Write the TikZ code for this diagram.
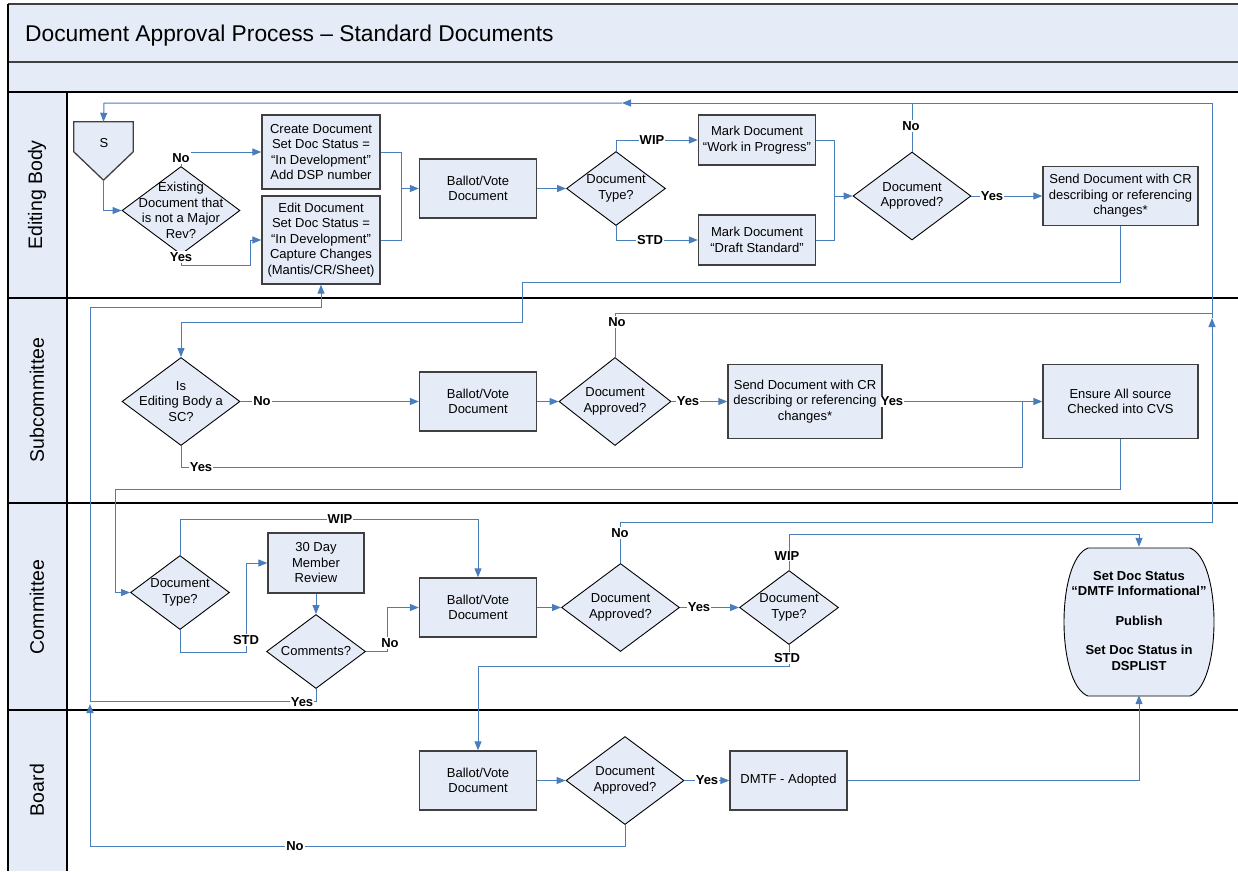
\documentclass[tikz,border=0pt]{standalone}
\usepackage{fontspec}
\setmainfont{Liberation Sans}
\usetikzlibrary{shapes.geometric,arrows.meta}
\definecolor{lineblue}{RGB}{74,126,187}
\definecolor{boxfill}{RGB}{230,236,247}
\definecolor{boxline}{RGB}{64,64,64}
\newcommand\bxf{\fontsize{13}{15.5}\selectfont}
\newcommand\lbf{\fontsize{13}{15.5}\selectfont\bfseries}
\newcommand\lanef{\fontsize{19.5}{22}\selectfont}
\newcommand\titf{\fontsize{22.8}{26}\selectfont}
\tikzset{
  conn/.style={draw=lineblue, line width=1pt},
  arr/.style={-{Triangle[length=9pt,width=7pt]}},
  box/.style={draw=boxline, fill=boxfill, line width=1.3pt, align=center, inner sep=1pt, font=\bxf},
  diab/.style={diamond, draw=black, fill=boxfill, line width=0.9pt, inner sep=0pt, minimum width=118, minimum height=88},
  dias/.style={diamond, draw=black, fill=boxfill, line width=0.9pt, inner sep=0pt, minimum width=99, minimum height=74},
  dtxt/.style={align=center, font=\bxf, inner sep=0pt},
  lbl/.style={font=\lbf, fill=white, inner sep=1pt},
  lane/.style={rotate=90, font=\lanef},
}
\begin{document}
\begin{tikzpicture}[x=1pt,y=-1pt]
\useasboundingbox (0,0) rectangle (1238,871);
% background bands
\fill[boxfill] (8,4) rectangle (1238,92);
\fill[boxfill] (8,92) rectangle (67,871);
\draw[black!75, line width=1.5pt] (8,4) -- (1238,4);
\draw[black!75, line width=1.5pt] (8,62) -- (1238,62);
\draw[black, line width=1.2pt] (8,92) -- (1238,92);
\draw[black, line width=1.2pt] (8,298) -- (1238,298);
\draw[black, line width=1.2pt] (8,503) -- (1238,503);
\draw[black, line width=1.2pt] (8,710) -- (1238,710);
\draw[black, line width=1.2pt] (8,4) -- (8,871);
\draw[black, line width=1.2pt] (67,92) -- (67,871);
\node[font=\titf, anchor=base west, inner sep=0pt] (title) at (25,41) {Document Approval Process – Standard Documents};
\node[lane] (lane1) at (37,195) {Editing Body};
\node[lane] (lane2) at (37,400) {Subcommittee};
\node[lane] (lane3) at (37,607) {Committee};
\node[lane] (lane4) at (37,790) {Board};

% ---------- Editing Body ----------
\node[inner sep=0pt, minimum width=59, minimum height=58] (S) at (103.5,151) {};
\draw[draw=boxline, fill=boxfill, line width=1.3pt] (S.north west) -- (S.north east) -- ([yshift=-30pt]S.north east) -- (S.south) -- ([yshift=-30pt]S.north west) -- cycle;
\node[font=\bxf, inner sep=0pt] (Stxt) at (104,143) {S};
\node[diab] (d1) at (181,210.5) {};
\node[dtxt] (d1t) at (d1) {Existing\\Document that\\is not a Major\\Rev?};
\node[box, minimum width=118, minimum height=74] (create) at (321,152) {Create Document\\Set Doc Status =\\“In Development”\\Add DSP number};
\node[box, minimum width=118, minimum height=88] (edit) at (321,240) {Edit Document\\Set Doc Status =\\“In Development”\\Capture Changes\\(Mantis/CR/Sheet)};
\node[box, minimum width=117, minimum height=59] (bal1) at (478,188.5) {Ballot/Vote\\Document};
\node[dias] (type1) at (616,188.5) {};
\node[dtxt] (type1t) at (type1) {Document\\Type?};
\node[box, minimum width=117, minimum height=50] (wip1) at (757,140) {Mark Document\\“Work in Progress”};
\node[box, minimum width=117, minimum height=50] (std1) at (757,240) {Mark Document\\“Draft Standard”};
\node[diab] (app1) at (912,196) {};
\node[dtxt] (app1t) at (app1) {Document\\Approved?};
\node[box, minimum width=155, minimum height=59] (send1) at (1120.5,196) {Send Document with CR\\describing or referencing\\changes*};

% ---------- Subcommittee ----------
\node[diab] (issc) at (181,401.5) {};
\node[dtxt] (issct) at (issc) {Is\\Editing Body a\\SC?};
\node[box, minimum width=117, minimum height=59] (bal2) at (478,401.5) {Ballot/Vote\\Document};
\node[diab, minimum width=112] (app2) at (615,401.5) {};
\node[dtxt] (app2t) at (app2) {Document\\Approved?};
\node[box, minimum width=154, minimum height=74] (send2) at (805,401.5) {Send Document with CR\\describing or referencing\\changes*};
\node[box, minimum width=155, minimum height=74] (ensure) at (1120.5,401.5) {Ensure All source\\Checked into CVS};

% ---------- Committee ----------
\node[dias] (ctype) at (180,592.5) {};
\node[dtxt] (ctypet) at (ctype) {Document\\Type?};
\node[box, minimum width=96, minimum height=60] (review) at (316,563) {30 Day\\Member\\Review};
\node[dias] (comm) at (316,651.5) {};
\node[dtxt] (commt) at (comm) {Comments?};
\node[box, minimum width=117, minimum height=59] (bal3) at (478,607.5) {Ballot/Vote\\Document};
\node[diab] (app3) at (620.5,607.5) {};
\node[dtxt] (app3t) at (app3) {Document\\Approved?};
\node[dias] (dtype) at (789,607.5) {};
\node[dtxt] (dtypet) at (dtype) {Document\\Type?};
\draw[draw=black, fill=boxfill, line width=0.9pt] (1088,548) -- (1190,548) .. controls (1222,560) and (1222,684) .. (1190,696) -- (1088,696) .. controls (1056,684) and (1056,560) .. (1088,548) -- cycle;
\node[font=\lbf, align=center, inner sep=0pt, minimum width=150, minimum height=148] (term) at (1139,621) {Set Doc Status\\“DMTF Informational”\\[14pt]Publish\\[14pt]Set Doc Status in\\DSPLIST};

% ---------- Board ----------
\node[box, minimum width=117, minimum height=59] (bal4) at (478,780.5) {Ballot/Vote\\Document};
\node[diab] (app4) at (625,780.5) {};
\node[dtxt] (app4t) at (app4) {Document\\Approved?};
\node[box, minimum width=117, minimum height=59] (dmtf) at (788.5,780.5) {DMTF - Adopted};

% ---------- coordinates ----------
\coordinate (kR1) at (1212,522);
\coordinate (kR2) at (1212,313);
\coordinate (kArrR) at (1212,318);
\coordinate (kTR) at (1212,103);
\coordinate (kArrT) at (622,103);
\coordinate (kTL) at (104,103);
\coordinate (kY1) at (250,265);
\coordinate (kJ1) at (401,188.5);
\coordinate (kJ2) at (834,196);
\coordinate (kS1) at (522,282);
\coordinate (kS2) at (522,322);
\coordinate (kY2) at (1022,467);
\coordinate (kE1) at (115,489);
\coordinate (kW1) at (478,519);
\coordinate (kSt1) at (246,652);
\coordinate (kN1) at (387,651.5);
\coordinate (kYc) at (90,701);
\coordinate (kEd) at (90,307);
\coordinate (kW2) at (1139,534);
\coordinate (kSt2) at (478,666);
\coordinate (kD1) at (1139,780.5);
\coordinate (kB1) at (90,846);
\coordinate (kB2) at (90,704);

% ---------- connectors ----------
\draw[conn,arr] (app3.north) |- (kR1) -- (kArrR);
\draw[conn,arr] (kArrR) -- (kTR) -- (kArrT);
\draw[conn,arr] (kArrT) -- (kTL) -- (S.north);
\draw[conn] (app1.north) -- (app1.north |- kTR);
\draw[conn] (app2.north) |- (kR2);

\draw[conn,arr] (S.south) |- (d1.west);
\draw[conn,arr] (d1.north) |- (create.west);
\draw[conn,arr] (d1.south) |- (kY1) |- (edit.west);
\draw[conn] (create.east) -| (kJ1);
\draw[conn] (edit.east) -| (kJ1);
\draw[conn,arr] (kJ1) -- (bal1.west);
\draw[conn,arr] (bal1.east) -- (type1.west);
\draw[conn,arr] (type1.north) |- (wip1.west);
\draw[conn,arr] (type1.south) |- (std1.west);
\draw[conn] (wip1.east) -| (kJ2);
\draw[conn] (std1.east) -| (kJ2);
\draw[conn,arr] (kJ2) -- (app1.west);
\draw[conn,arr] (app1.east) -- (send1.west);
\draw[conn,arr] (send1.south) |- (kS1) -- (kS2) -| (issc.north);

\draw[conn,arr] (issc.east) -- (bal2.west);
\draw[conn,arr] (bal2.east) -- (app2.west);
\draw[conn,arr] (app2.east) -- (send2.west);
\draw[conn,arr] (send2.east) -- (ensure.west);
\draw[conn] (issc.south) |- (kY2) -- (kY2 |- ensure.west);
\draw[conn,arr] (ensure.south) |- (kE1) |- (ctype.west);

\draw[conn,arr] (ctype.north) |- (kW1) -- (bal3.north);
\draw[conn,arr] (ctype.south) |- (kSt1) |- (review.west);
\draw[conn,arr] (review.south) -- (comm.north);
\draw[conn,arr] (comm.east) -- (kN1) |- (bal3.west);
\draw[conn,arr] (comm.south) |- (kYc) -- (kEd) -| (edit.south);
\draw[conn,arr] (bal3.east) -- (app3.west);
\draw[conn,arr] (app3.east) -- (dtype.west);
\draw[conn,arr] (dtype.north) |- (kW2) -- (term.north);
\draw[conn,arr] (dtype.south) |- (kSt2) -- (bal4.north);

\draw[conn,arr] (bal4.east) -- (app4.west);
\draw[conn,arr] (app4.east) -- (dmtf.west);
\draw[conn,arr] (dmtf.east) -- (kD1) -- (term.south);
\draw[conn,arr] (app4.south) |- (kB1) -- (kB2);

% ---------- labels ----------
\node[lbl] (lb1) at (181,158) {No};
\node[lbl] (lb2) at (181,257) {Yes};
\node[lbl] (lb3) at (652,140) {WIP};
\node[lbl] (lb4) at (650,240) {STD};
\node[lbl] (lb5) at (911,126) {No};
\node[lbl] (lb6) at (992,196) {Yes};
\node[lbl] (lb7) at (262,401.5) {No};
\node[lbl] (lb8) at (617,322) {No};
\node[lbl] (lb9) at (688,401.5) {Yes};
\node[lbl] (lb10) at (892,401.5) {Yes};
\node[lbl] (lb11) at (201,467) {Yes};
\node[lbl] (lb12) at (340,519) {WIP};
\node[lbl] (lb13) at (246,640) {STD};
\node[lbl] (lb14) at (390,643) {No};
\node[lbl] (lb15) at (302,702) {Yes};
\node[lbl] (lb16) at (620,533) {No};
\node[lbl] (lb17) at (699,607.5) {Yes};
\node[lbl] (lb18) at (787,556) {WIP};
\node[lbl] (lb19) at (787,658) {STD};
\node[lbl] (lb20) at (707,780.5) {Yes};
\node[lbl] (lb21) at (295,846) {No};
\end{tikzpicture}
\end{document}
